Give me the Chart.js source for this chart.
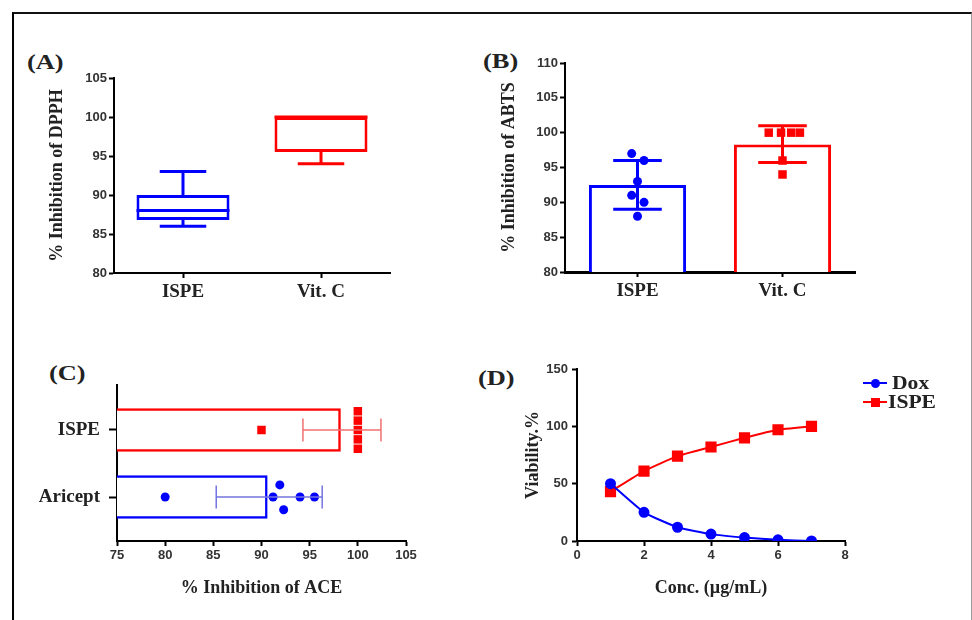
<!DOCTYPE html>
<html>
<head>
<meta charset="utf-8">
<script src="https://cdn.jsdelivr.net/npm/chart.js@4.4.0/dist/chart.umd.min.js"></script>
<style>
html,body{margin:0;padding:0;background:#fff;}
body{width:972px;height:620px;position:relative;overflow:hidden;}
#frame{position:absolute;left:12px;top:12px;width:957px;height:640px;border-left:2px solid #000;border-top:2px solid #111;border-right:1px solid #999;}
canvas{position:absolute;}
.lbl{position:absolute;font-family:'Liberation Serif','Times New Roman',serif;font-weight:bold;font-size:22px;line-height:1;color:#222;transform:scaleX(1.2);transform-origin:0 0;white-space:nowrap;}
.legtxt{position:absolute;font-family:'Liberation Serif','Times New Roman',serif;font-weight:bold;font-size:18px;line-height:18px;color:#222;transform:scaleX(1.2);transform-origin:0 50%;white-space:nowrap;}
.legline{position:absolute;height:2px;}
.legmark{position:absolute;}
</style>
</head>
<body>
<div id="frame"></div>
<div class="lbl" style="left:27px;top:51px;">(A)</div>
<div class="lbl" style="left:483px;top:50px;">(B)</div>
<div class="lbl" style="left:49px;top:362px;">(C)</div>
<div class="lbl" style="left:478px;top:367px;">(D)</div>
<script>
// ---------------- DATA ----------------
// (A) DPPH box plot
const dpphCategories = ['ISPE', 'Vit. C'];
const dpphMin    = [86, 94];
const dpphQ1     = [86.8, 95.5];
const dpphMedian = [88, 100];
const dpphQ3     = [90, 100];
const dpphMax    = [93, 100];

// (B) ABTS bars with SD and individual points
const abtsCategories = ['ISPE', 'Vit. C'];
const abtsMean = [92.5, 98.3];
const abtsLow  = [89, 95.7];
const abtsHigh = [96, 101];
const abtsIspePoints = [97, 96, 93, 91, 90, 88];
const abtsVitCPoints = [100, 100, 100, 100, 96, 94];
const abtsIspeJitter = [-0.04, 0.045, 0, -0.04, 0.045, 0];
const abtsVitCJitter = [-0.095, -0.01, 0.06, 0.12, 0, 0];

// (C) ACE horizontal bars
const aceCategories = ['ISPE', 'Aricept'];
const aceMean = [98.2, 90.6];
const aceLow  = [94.3, 85.3];
const aceHigh = [102.4, 96.3];
const aceIspePoints = [90, 100, 100, 100, 100, 100];
const aceAriceptPoints = [80, 91.9, 91.2, 94, 95.5, 92.3];
const aceIspeJitter = [0, -0.28, -0.14, 0, 0.14, 0.28];
const aceAriceptJitter = [0, -0.18, 0, 0, 0, 0.19];

// (D) Viability
const seriesNames = ['Dox', 'ISPE'];
const viabilityConc = [1, 2, 3, 4, 5, 6, 7];
const doxViability  = [50, 25, 12, 6, 3, 1, 0];
const ispeViability = [43, 61, 74, 82, 90, 97, 100];

// ---------------- STYLE ----------------
const BLUE = '#0000ff', RED = '#ff0000';
const serif = "'Liberation Serif','Times New Roman',serif";
const sans = "'Liberation Sans',Arial,sans-serif";
const tickFont = {family: sans, size: 13, weight: 'bold'};
const catFont = {family: serif, size: 19, weight: 'bold'};
const titleFont = {family: serif, size: 18, weight: 'bold'};

function makeCanvas(left, top, w, h) {
  const c = document.createElement('canvas');
  c.width = w; c.height = h;
  c.style.left = left + 'px'; c.style.top = top + 'px';
  c.style.width = w + 'px'; c.style.height = h + 'px';
  document.body.appendChild(c);
  return c;
}
function gridOpt(len) {
  return {drawOnChartArea: false, offset: false, tickLength: len || 5, tickWidth: 2, tickColor: '#000'};
}
function borderOpt(w) { return {display: true, color: '#000', width: w || 2}; }
function baseOptions(padTop, padRight) {
  return {
    responsive: false, animation: false, devicePixelRatio: 1,
    layout: {padding: {top: padTop, right: padRight, left: 0, bottom: 0}},
    plugins: {legend: {display: false}, tooltip: {enabled: false}, title: {display: false}}
  };
}

// ---------------- (A) ----------------
const boxPlugin = {
  id: 'boxWhiskers',
  afterDatasetsDraw(chart) {
    const ctx = chart.ctx, y = chart.scales.y;
    const meta = chart.getDatasetMeta(0);
    const cols = [BLUE, RED];
    meta.data.forEach((bar, i) => {
      const cx = bar.x, hw = bar.width / 2;
      ctx.save();
      ctx.strokeStyle = cols[i]; ctx.lineWidth = 3; ctx.lineCap = 'butt';
      const yMed = y.getPixelForValue(dpphMedian[i]);
      ctx.beginPath(); ctx.moveTo(cx - hw, yMed); ctx.lineTo(cx + hw, yMed); ctx.stroke();
      const yq3 = y.getPixelForValue(dpphQ3[i]), yq1 = y.getPixelForValue(dpphQ1[i]);
      const yMax = y.getPixelForValue(dpphMax[i]), yMin = y.getPixelForValue(dpphMin[i]);
      if (dpphMax[i] > dpphQ3[i]) {
        ctx.beginPath(); ctx.moveTo(cx, yq3); ctx.lineTo(cx, yMax);
        ctx.moveTo(cx - hw / 2, yMax); ctx.lineTo(cx + hw / 2, yMax); ctx.stroke();
      }
      if (dpphMin[i] < dpphQ1[i]) {
        ctx.beginPath(); ctx.moveTo(cx, yq1); ctx.lineTo(cx, yMin);
        ctx.moveTo(cx - hw / 2, yMin); ctx.lineTo(cx + hw / 2, yMin); ctx.stroke();
      }
      ctx.restore();
    });
  }
};
(function () {
  const opts = baseOptions(33, 20);
  opts.scales = {
    x: {type: 'category', offset: true, grid: gridOpt(5), border: borderOpt(2),
        ticks: {font: catFont, color: '#222', padding: 3},
        afterFit: s => { s.height = 42; }},
    y: {type: 'linear', min: 80, max: 105, beginAtZero: false, grid: gridOpt(5), border: borderOpt(2),
        ticks: {stepSize: 5, font: tickFont, color: '#333', padding: 2},
        title: {display: true, text: '% Inhibition of DPPH', font: titleFont, color: '#222', padding: {top: 26.2, bottom: 26.2}},
        afterFit: s => { s.width = 94; }}
  };
  new Chart(makeCanvas(20, 45, 390, 270), {
    type: 'bar',
    data: {labels: dpphCategories, datasets: [{
      data: dpphCategories.map((c, i) => [dpphQ1[i], dpphQ3[i]]),
      backgroundColor: '#fff', borderColor: [BLUE, RED], borderWidth: 3, borderSkipped: false,
      grouped: false, barPercentage: 0.674, categoryPercentage: 1
    }]},
    options: opts,
    plugins: [boxPlugin]
  });
})();

// ---------------- (B) ----------------
const vErrPlugin = {
  id: 'vErr',
  afterDatasetsDraw(chart) {
    const ctx = chart.ctx, x = chart.scales.x, y = chart.scales.y;
    const meta = chart.getDatasetMeta(0);
    const cols = [BLUE, RED];
    abtsCategories.forEach((c, i) => {
      const cx = x.getPixelForValue(i), cap = meta.data[i].width / 4;
      const lo = y.getPixelForValue(abtsLow[i]), hi = y.getPixelForValue(abtsHigh[i]);
      ctx.save(); ctx.strokeStyle = cols[i]; ctx.lineWidth = 3;
      ctx.beginPath(); ctx.moveTo(cx, lo); ctx.lineTo(cx, hi);
      ctx.moveTo(cx - cap, lo); ctx.lineTo(cx + cap, lo);
      ctx.moveTo(cx - cap, hi); ctx.lineTo(cx + cap, hi); ctx.stroke();
      ctx.restore();
    });
  }
};
(function () {
  const opts = baseOptions(33, 15);
  opts.scales = {
    x: {type: 'category', offset: true, grid: gridOpt(5), border: borderOpt(3),
        ticks: {font: catFont, color: '#222', padding: 3},
        afterFit: s => { s.height = 43; }},
    x2: {type: 'linear', min: -0.5, max: 1.5, offset: false, display: false},
    y: {type: 'linear', min: 80, max: 110, beginAtZero: false, grid: gridOpt(5), border: borderOpt(2),
        ticks: {stepSize: 5, font: tickFont, color: '#333', padding: 2},
        title: {display: true, text: '% Inhibition of ABTS', font: titleFont, color: '#222', padding: {top: 28.2, bottom: 28.2}},
        afterFit: s => { s.width = 95; }}
  };
  new Chart(makeCanvas(470, 30, 400, 285), {
    type: 'bar',
    data: {labels: abtsCategories, datasets: [
      {type: 'bar', order: 2, data: abtsMean, xAxisID: 'x', yAxisID: 'y', backgroundColor: '#fff', borderColor: [BLUE, RED],
       borderWidth: 3, grouped: false, barPercentage: 0.67, categoryPercentage: 1},
      {type: 'scatter', order: 1, xAxisID: 'x2', yAxisID: 'y', data: abtsIspePoints.map((v, i) => ({x: 0 + abtsIspeJitter[i], y: v})),
       pointStyle: 'circle', pointRadius: 4.5, backgroundColor: BLUE, borderColor: BLUE, borderWidth: 0, showLine: false},
      {type: 'scatter', order: 1, xAxisID: 'x2', yAxisID: 'y', data: abtsVitCPoints.map((v, i) => ({x: 1 + abtsVitCJitter[i], y: v})),
       pointStyle: 'rect', pointRadius: 6, backgroundColor: RED, borderColor: RED, borderWidth: 0, showLine: false}
    ]},
    options: opts,
    plugins: [vErrPlugin]
  });
})();

// ---------------- (C) ----------------
const hErrPlugin = {
  id: 'hErr',
  afterDatasetsDraw(chart) {
    const ctx = chart.ctx, x = chart.scales.x, y = chart.scales.y;
    const cols = ['#f07070', '#7474e0'];
    aceCategories.forEach((c, i) => {
      const cy = y.getPixelForValue(i);
      const lo = x.getPixelForValue(aceLow[i]), hi = x.getPixelForValue(aceHigh[i]);
      ctx.save(); ctx.strokeStyle = cols[i]; ctx.lineWidth = 1.5;
      ctx.beginPath(); ctx.moveTo(lo, cy); ctx.lineTo(hi, cy);
      ctx.moveTo(lo, cy - 11.5); ctx.lineTo(lo, cy + 11.5);
      ctx.moveTo(hi, cy - 11.5); ctx.lineTo(hi, cy + 11.5); ctx.stroke();
      ctx.restore();
    });
  }
};
(function () {
  const opts = baseOptions(25, 24);
  opts.indexAxis = 'y';
  opts.scales = {
    x: {type: 'linear', min: 75, max: 105, beginAtZero: false, offset: false, grid: gridOpt(5), border: borderOpt(2),
        ticks: {stepSize: 5, font: tickFont, color: '#333', padding: 2, maxRotation: 0},
        title: {display: true, text: '% Inhibition of ACE', font: titleFont, color: '#222', padding: {top: 16.2, bottom: 16.2}},
        afterFit: s => { s.height = 74; }},
    y: {type: 'linear', reverse: true, min: -0.6716, max: 1.6567, offset: false, grid: gridOpt(8), border: borderOpt(2),
        afterBuildTicks: s => { s.ticks = aceCategories.map((c, i) => ({value: i})); },
        ticks: {font: catFont, color: '#222', padding: 9, autoSkip: false, callback: (v, idx) => aceCategories[idx]},
        afterFit: s => { s.width = 97; }}
  };
  new Chart(makeCanvas(20, 360, 410, 255), {
    type: 'bar',
    data: {datasets: [
      {type: 'bar', order: 2, indexAxis: 'y', data: aceMean.map((v, i) => ({x: v, y: i})), backgroundColor: '#fff',
       borderColor: [RED, BLUE], borderWidth: 2.5, borderSkipped: 'start', barThickness: 43},
      {type: 'scatter', order: 1, data: aceIspePoints.map((v, i) => ({x: v, y: 0 + aceIspeJitter[i]})),
       pointStyle: 'rect', pointRadius: 6, backgroundColor: RED, borderColor: RED, borderWidth: 0, showLine: false},
      {type: 'scatter', order: 1, data: aceAriceptPoints.map((v, i) => ({x: v, y: 1 + aceAriceptJitter[i]})),
       pointStyle: 'circle', pointRadius: 4.5, backgroundColor: BLUE, borderColor: BLUE, borderWidth: 0, showLine: false}
    ]},
    options: opts,
    plugins: [hErrPlugin]
  });
})();

// ---------------- (D) ----------------
(function () {
  const opts = baseOptions(24, 20);
  opts.scales = {
    x: {type: 'linear', min: 0, max: 8, grid: gridOpt(5), border: borderOpt(2),
        ticks: {stepSize: 2, font: tickFont, color: '#333', padding: 2},
        title: {display: true, text: 'Conc. (µg/mL)', font: titleFont, color: '#222', padding: {top: 16.2, bottom: 16.2}},
        afterFit: s => { s.height = 74; }},
    y: {type: 'linear', min: 0, max: 150, grid: gridOpt(5), border: borderOpt(2),
        ticks: {stepSize: 50, font: tickFont, color: '#333', padding: 4},
        title: {display: true, text: 'Viability.%', font: titleFont, color: '#222', padding: {top: 17.2, bottom: 17.2}},
        afterFit: s => { s.width = 72; }}
  };
  new Chart(makeCanvas(505, 345, 360, 270), {
    type: 'line',
    data: {datasets: [
      {label: seriesNames[0], data: viabilityConc.map((c, i) => ({x: c, y: doxViability[i]})),
       borderColor: BLUE, backgroundColor: BLUE, borderWidth: 2, pointStyle: 'circle', pointRadius: 4.5, tension: 0.15},
      {label: seriesNames[1], data: viabilityConc.map((c, i) => ({x: c, y: ispeViability[i]})),
       borderColor: RED, backgroundColor: RED, borderWidth: 2, pointStyle: 'rect', pointRadius: 6.5, tension: 0.15}
    ]},
    options: opts
  });
  // legend (HTML)
  const legCols = [BLUE, RED];
  const legY = [383, 402];
  seriesNames.forEach((name, i) => {
    const line = document.createElement('div');
    line.className = 'legline';
    line.style.cssText = `left:863px;top:${legY[i] - 1}px;width:24px;background:${legCols[i]};`;
    document.body.appendChild(line);
    const m = document.createElement('div');
    m.className = 'legmark';
    const sz = 9;
    m.style.cssText = `left:${875 - sz / 2}px;top:${legY[i] - sz / 2}px;width:${sz}px;height:${sz}px;background:${legCols[i]};border-radius:${i === 0 ? '50%' : '0'};`;
    document.body.appendChild(m);
    const t = document.createElement('div');
    t.className = 'legtxt';
    t.style.cssText = `left:${i === 0 ? 892 : 888}px;top:${legY[i] - 9}px;`;
    t.textContent = name;
    document.body.appendChild(t);
  });
})();
</script>
</body>
</html>
